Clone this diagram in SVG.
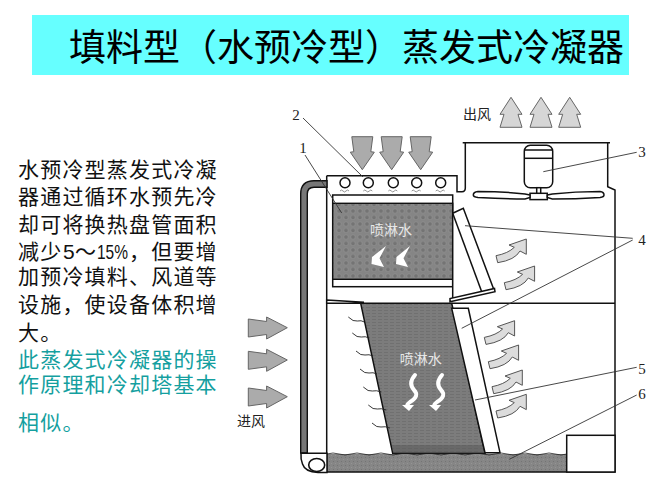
<svg xmlns="http://www.w3.org/2000/svg" width="657" height="482" viewBox="0 0 657 482">
<style>
.t{font-family:"Noto Sans CJK SC","Liberation Sans",sans-serif;font-size:21px;letter-spacing:1.2px}
.k{fill:#111}.g{fill:#159f9f}
.n{font-family:"Liberation Serif",serif;font-size:15px;fill:#222;text-anchor:middle}
.c{font-family:"Noto Sans CJK SC",sans-serif;font-size:14px;fill:#222}
.w{font-family:"Noto Sans CJK SC",sans-serif;font-size:14px;fill:#e8e8e8;text-anchor:middle}
.l{stroke:#111;stroke-width:1.500;fill:none}
.b{stroke:#111;stroke-width:1.500;fill:#fff}
.lead{stroke:#333;stroke-width:.9;fill:none}
.da{fill:#ababab;stroke:#666;stroke-width:1}
.ua{fill:#d6d6d6;stroke:#666;stroke-width:1}
.ca{fill:#dcdcdc;stroke:#555;stroke-width:1}
.sq{stroke:#fff;stroke-width:4;fill:none;stroke-linecap:round}
.ten{stroke:#222;stroke-width:.9;fill:none}
.spray{stroke:#666;stroke-width:.7;fill:none}
</style>
<defs>
<pattern id="dots" width="7" height="6.5" patternUnits="userSpaceOnUse">
<rect width="7" height="6.5" fill="#858585"/>
<circle cx="3" cy="3" r="2.3" fill="#747474" stroke="#959595" stroke-width=".6"/>
</pattern>
<pattern id="lines" width="6" height="3" patternUnits="userSpaceOnUse">
<rect width="6" height="3" fill="#7c7c7c"/>
<rect y="1" width="4" height="1" fill="#707070"/>
</pattern>
<pattern id="grain" width="4" height="4" patternUnits="userSpaceOnUse">
<rect width="4" height="4" fill="#868686"/>
<rect x="1" y="1" width="1" height="1" fill="#747474"/>
<rect x="3" y="3" width="1" height="1" fill="#949494"/>
</pattern>
<path id="da" d="M-10.500,0H10.500L8.500,15L12,15.500L0,33L-12,15.500L-8.500,15Z"/>
<path id="ua" d="M0,0L11,17L7,17L11,30H-11L-7,17L-11,17Z"/>
<path id="ra" d="M0,1L18.300,3.500L18.300,-1L39,9.700L18.300,21L18.300,16.500L0,19Z"/>
<path id="ca" d="M0,16.700L1.700,23.700Q19,21 24,12L30.300,15.300L30.300,0L13,6L18.300,8.300Q12.300,14.300 0,16.700Z"/>
<g id="sp"><path class="spray" d="M-5,0q1.500,-2 3,0t3,0t3,0"/></g>
</defs>

<g id="title">
<rect x="32" y="15" width="597" height="60" fill="#66ffff"/>
<text x="69" y="61" font-family="Noto Sans CJK SC,sans-serif" font-size="37" fill="#000">填料型（水预冷型）蒸发式冷凝器</text>
</g>

<g id="description">
<text class="t k" x="18" y="177">水预冷型蒸发式冷凝</text>
<text class="t k" x="18" y="204">器通过循环水预先冷</text>
<text class="t k" x="18" y="232">却可将换热盘管面积</text>
<text class="t k" x="18" y="259">减少</text>
<text class="t k" x="63" y="259" font-family="Liberation Sans,sans-serif" style="letter-spacing:0;font-family:'Liberation Sans',sans-serif">5</text>
<text class="t k" x="75" y="259" style="letter-spacing:0">～</text>
<text class="t k" x="97" y="259" textLength="31" lengthAdjust="spacingAndGlyphs" style="letter-spacing:0;font-family:'Liberation Sans',sans-serif">15%</text>
<text class="t k" x="129" y="259">，但要增</text>
<text class="t k" x="18" y="284">加预冷填料、风道等</text>
<text class="t k" x="18" y="312">设施，使设备体积增</text>
<text class="t k" x="18" y="340">大。</text>
<text class="t g" x="18" y="367">此蒸发式冷凝器的操</text>
<text class="t g" x="18" y="392">作原理和冷却塔基本</text>
<text class="t g" x="18" y="430">相似。</text>
</g>

<g id="casing">
<path d="M327,454H566.700V472H327Z" fill="url(#grain)"/>
<path d="M327,454q6,-2 12,0t12,0t12,0t12,0t12,0t12,0t12,0t12,0t12,0t12,0t12,0t12,0t12,0t12,0t12,0t12,0t12,0t12,0t12,0t12,0" stroke="#222" stroke-width=".8" fill="none"/>
<path class="l" d="M326.700,175.700V472H615V190L607.700,186.700V142.700M462.700,142.700H610M465.300,142.700V188Q465.300,191.700 462,191.700H457V175.700H326.700"/>
<path class="l" d="M451.700,303.300H615"/>
<path class="l" d="M326.700,303.300H361"/>
<path class="b" d="M326.700,300L363.300,302.300V303.300H326.700Z"/>
<rect id="step" class="b" x="566.700" y="435.300" width="48.300" height="36.700"/>
</g>

<g id="pipe">
<path d="M327,180.700H314Q300.700,180.700 300.700,194V453H307.300V194Q307.300,187.300 314,187.300H327Z" fill="#777" stroke="#111" stroke-width="1.400"/>
<path class="b" d="M301,453.300H327V472.500H318Q305,472 302.500,464Q300.500,459 301,453.300Z"/>
<ellipse cx="316.700" cy="465" rx="8" ry="6.500" fill="#fff" stroke="#111" stroke-width="1.600"/>
</g>

<g id="upper-fill">
<rect class="b" x="332.700" y="195" width="120" height="91.700"/>
<rect x="332.700" y="203.300" width="120" height="76" fill="url(#dots)" stroke="#111" stroke-width="1.400"/>
<text class="w" x="391" y="235">喷淋水</text>
<path fill="#fff" d="M386,246L379.500,258.300L384,267L371.500,264L372,257Z"/>
<path fill="#fff" d="M410,246L403.500,258.300L408,267L396,264L396.500,257Z"/>
</g>

<g id="sprayers">
<circle class="b" cx="345" cy="182.700" r="5"/>
<circle class="b" cx="368.300" cy="182.700" r="5"/>
<circle class="b" cx="393.300" cy="182.700" r="5"/>
<circle class="b" cx="416.700" cy="182.700" r="5"/>
<circle class="b" cx="440.700" cy="182.700" r="5"/>
<use href="#sp" x="345" y="191"/><use href="#sp" x="368.300" y="191"/><use href="#sp" x="393.300" y="191"/><use href="#sp" x="416.700" y="191"/><use href="#sp" x="440.700" y="191"/>
</g>

<g id="upper-eliminator">
<path class="b" d="M452.700,213.300L463.300,208.300L494,290L452.700,299.300Z"/>
<path class="l" d="M452.700,213.300L481.700,291.700"/>
<path class="b" d="M450,301.700L495,291.700L494.500,288.500L450,298.500Z"/>
</g>

<g id="lower-fill">
<path d="M360.700,303.300H451.700L485,453.300H392.700Z" fill="url(#lines)" stroke="#111" stroke-width="1.500"/>
<path d="M392,445H484L485,453.300H393Z" fill="#555" opacity=".5"/>
<text class="w" x="420.700" y="364">喷淋水</text>
<path class="sq" d="M415,375Q408,383 414,390Q420,396 410,402Q406,405 408,406"/>
<path class="sq" d="M442,375Q435,383 441,390Q447,396 437,402Q433,405 435,406"/>
<path fill="#fff" d="M402,405H414L409,411Z"/>
<path fill="#fff" d="M429,405H441L436,411Z"/>
<path class="ten" d="M348.300,317q5,5 9,4t7,1"/>
<path class="ten" d="M352.300,333q5,5 9,4t8,1"/>
<path class="ten" d="M356,351q5,5 9,4t8,1"/>
<path class="ten" d="M360,369q5,5 9,4t8,1"/>
<path class="ten" d="M363.300,387q5,5 9,4t9,1"/>
<path class="ten" d="M368.300,405q5,5 9,4t9,1"/>
<path class="ten" d="M372,423q5,5 9,4t9,1"/>
</g>

<g id="lower-eliminator">
<path class="b" d="M451.700,308.300H468.300L500,452.700H485Z"/>
</g>

<g id="fan">
<rect class="b" x="524.300" y="145.300" width="28.400" height="42.400" rx="6"/>
<path class="l" d="M524.300,150H552.700"/>
<path class="l" d="M524.300,158.300H552.700" stroke-width="2"/>
<rect class="b" x="536.700" y="187.700" width="4" height="6"/>
<rect class="b" x="530" y="193.300" width="17.300" height="6.300"/>
<path class="b" d="M530,195L525,194Q505,191.500 478,191.500Q473.300,192 473.300,195Q473.300,197 478,197.500Q505,199 525,199L530,197.500Z"/>
<path class="b" d="M547.300,195L552.300,194Q575,191.500 600,191.500Q604,192 604,195Q604,197 600,197.500Q575,199 552.300,199L547.300,197.500Z"/>
</g>

<g id="air-arrows">
<use href="#da" class="da" x="362.300" y="136.700"/>
<use href="#da" class="da" x="391.700" y="136.700"/>
<use href="#da" class="da" x="420.700" y="136.700"/>
<use href="#ua" class="ua" x="511" y="97.300"/>
<use href="#ua" class="ua" x="541" y="97.300"/>
<use href="#ua" class="ua" x="569.700" y="97.300"/>
<use href="#ra" class="da" x="248.300" y="318"/>
<use href="#ra" class="da" x="248.300" y="350.300"/>
<use href="#ra" class="da" x="248.300" y="387"/>
<use href="#ca" class="ca" x="496" y="239"/>
<use href="#ca" class="ca" x="504.300" y="266"/>
<use href="#ca" class="ca" x="484.300" y="320.700"/>
<use href="#ca" class="ca" x="488.300" y="345"/>
<use href="#ca" class="ca" x="492" y="370"/>
<use href="#ca" class="ca" x="496" y="394.300"/>
</g>

<g id="connectors">
<path class="lead" d="M303,118L363,177"/>
<path class="lead" d="M305,155L341.700,213"/>
<path class="lead" d="M636.700,152.300L543.300,171.700"/>
<path class="lead" d="M632.700,238.300L465,225.700"/>
<path class="lead" d="M632.700,240L461.700,328.300"/>
<path class="lead" d="M636.700,367.300L475,400"/>
<path class="lead" d="M636.700,395L509.300,459.300"/>
</g>

<g id="labels">
<text class="n" x="296" y="120">2</text>
<text class="n" x="303" y="153">1</text>
<text class="n" x="642" y="156.500">3</text>
<text class="n" x="642" y="245">4</text>
<text class="n" x="642" y="374">5</text>
<text class="n" x="642" y="399">6</text>
<text class="c" x="463" y="119">出风</text>
<text class="c" x="237" y="426">进风</text>
</g>
</svg>
